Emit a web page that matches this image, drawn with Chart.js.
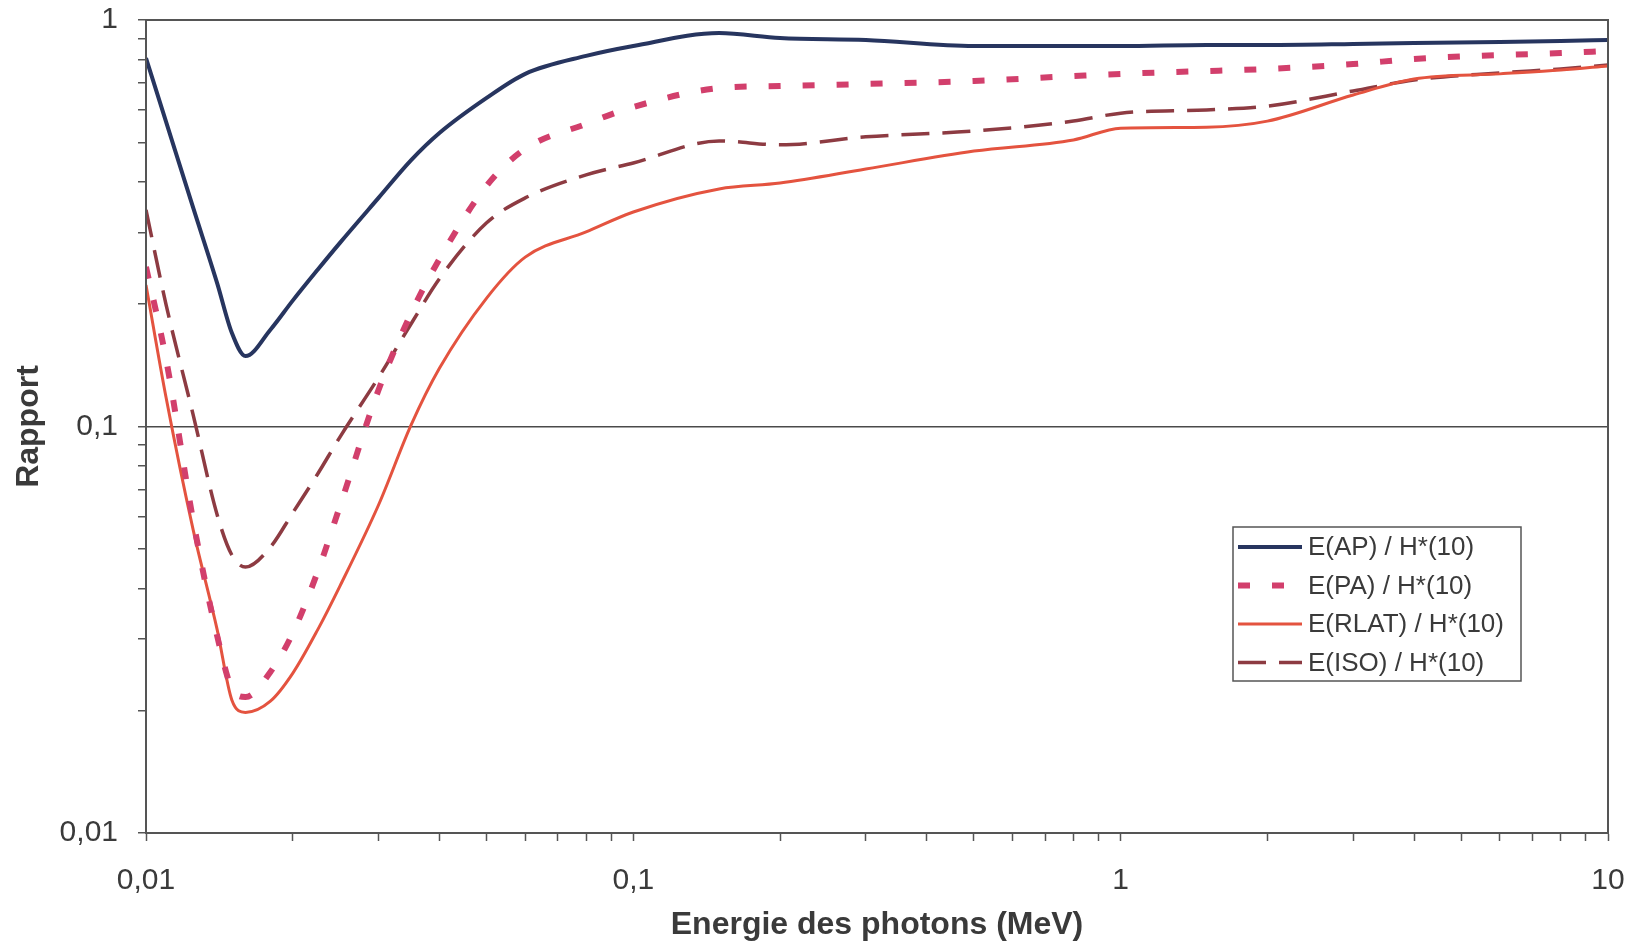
<!DOCTYPE html>
<html>
<head>
<meta charset="utf-8">
<script src="https://cdn.jsdelivr.net/npm/chart.js@4.4.1/dist/chart.umd.min.js"></script>
<style>
  html, body { margin: 0; padding: 0; background: #fff; }
</style>
</head>
<body>
<canvas id="ratio-chart" width="1644" height="944"></canvas>
<script>
// photon energies (MeV)
const energies = [0.01, 0.011, 0.0125, 0.014, 0.015, 0.016, 0.018, 0.02, 0.0225, 0.025, 0.03, 0.035, 0.04, 0.05, 0.06, 0.08,
    0.1, 0.15, 0.2, 0.3, 0.5, 0.8, 1, 1.5, 2, 3, 4, 6, 8, 10];

// E / H*(10) ratios
const apValues = [0.806, 0.561, 0.345, 0.225, 0.170, 0.149, 0.173, 0.204, 0.243, 0.283, 0.365, 0.452, 0.527, 0.643, 0.737, 0.816,
    0.863, 0.929, 0.903, 0.893, 0.863, 0.863, 0.863, 0.868, 0.868, 0.873, 0.878, 0.883, 0.888, 0.893];
const paValues = [0.247, 0.146, 0.0586, 0.0305, 0.0227, 0.0216, 0.0249, 0.031, 0.0439, 0.0637, 0.123, 0.190, 0.258, 0.391, 0.482, 0.555,
    0.611, 0.680, 0.688, 0.696, 0.708, 0.728, 0.737, 0.749, 0.758, 0.779, 0.802, 0.820, 0.829, 0.839];
const rlatValues = [0.223, 0.1175, 0.0556, 0.0316, 0.02125, 0.0198, 0.0211, 0.0247, 0.0316, 0.0405, 0.0641, 0.1009, 0.139, 0.207, 0.261, 0.301,
    0.337, 0.384, 0.397, 0.430, 0.476, 0.507, 0.542, 0.545, 0.564, 0.654, 0.716, 0.737, 0.753, 0.771];
const isoValues = [0.341, 0.199, 0.1067, 0.0606, 0.0483, 0.0451, 0.0505, 0.0613, 0.0764, 0.0942, 0.132, 0.179, 0.231, 0.317, 0.365, 0.416,
    0.445, 0.504, 0.493, 0.516, 0.533, 0.564, 0.590, 0.601, 0.614, 0.669, 0.712, 0.741, 0.758, 0.775];

const seriesLabels = ['E(AP) / H*(10)', 'E(PA) / H*(10)', 'E(RLAT) / H*(10)', 'E(ISO) / H*(10)'];

// axis ticks
const xMajorTicks = [0.01, 0.1, 1, 10];
const xTickLabels = ['0,01', '0,1', '1', '10'];
const yMajorTicks = [0.01, 0.1, 1];
const yTickLabels = ['0,01', '0,1', '1'];

const fontFamily = "'Liberation Sans', Arial, sans-serif";
const textColor = '#3a3a3a';
const axisColor = '#555';

function toPoints(values) {
    return energies.map((e, i) => ({ x: e, y: values[i] }));
}

function majorIndex(majors, v) {
    return majors.findIndex(m => Math.abs(m - v) < m * 1e-6);
}

// 1..9 x 10^n ticks between the decades
function logTicks(majors) {
    const list = [];
    majors.forEach((m, i) => {
        list.push({ value: m, major: true });
        if (i < majors.length - 1) {
            for (let k = 2; k <= 9; k++) list.push({ value: +(m * k).toPrecision(6), major: false });
        }
    });
    return list;
}

// frame round the plot area
const framePlugin = {
    id: 'frame',
    afterDatasetsDraw(chart) {
        const { ctx, chartArea: a } = chart;
        ctx.save();
        ctx.strokeStyle = axisColor;
        ctx.lineWidth = 2;
        ctx.strokeRect(a.left, a.top, a.right - a.left, a.bottom - a.top);
        ctx.restore();
    }
};

// boxed legend inside the plot
const boxLegend = {
    id: 'boxLegend',
    afterDraw(chart) {
        const { ctx, chartArea: a } = chart;
        const x0 = a.right - 375, y0 = a.top + 507, w = 288, h = 154;
        ctx.save();
        ctx.fillStyle = '#fff';
        ctx.fillRect(x0, y0, w, h);
        ctx.strokeStyle = axisColor;
        ctx.lineWidth = 1.5;
        ctx.strokeRect(x0, y0, w, h);
        ctx.font = '26px ' + fontFamily;
        ctx.textBaseline = 'middle';
        chart.data.datasets.forEach((ds, i) => {
            const y = y0 + 20 + i * 38.5;
            ctx.strokeStyle = ds.borderColor;
            ctx.lineWidth = ds.borderWidth;
            ctx.setLineDash(ds.borderDash || []);
            ctx.beginPath();
            ctx.moveTo(x0 + 5, y);
            ctx.lineTo(x0 + 69, y);
            ctx.stroke();
            ctx.setLineDash([]);
            ctx.fillStyle = textColor;
            ctx.fillText(ds.label, x0 + 75, y + 1);
        });
        ctx.restore();
    }
};

const ctx = document.getElementById('ratio-chart');

new Chart(ctx, {
    type: 'line',
    data: {
        datasets: [
            {
                label: seriesLabels[0],
                data: toPoints(apValues),
                borderColor: '#27355f',
                borderWidth: 4
            },
            {
                label: seriesLabels[1],
                data: toPoints(paValues),
                borderColor: '#d23f6c',
                borderWidth: 6,
                borderDash: [12, 22]
            },
            {
                label: seriesLabels[2],
                data: toPoints(rlatValues),
                borderColor: '#e4533f',
                borderWidth: 3
            },
            {
                label: seriesLabels[3],
                data: toPoints(isoValues),
                borderColor: '#8d3b42',
                borderWidth: 3.5,
                borderDash: [28, 13]
            }
        ]
    },
    options: {
        responsive: false,
        animation: false,
        layout: { padding: { left: 0, top: 20, right: 36, bottom: 0 } },
        elements: {
            point: { radius: 0 },
            line: { cubicInterpolationMode: 'monotone', borderCapStyle: 'butt', fill: false }
        },
        plugins: {
            legend: { display: false },
            tooltip: { enabled: false }
        },
        scales: {
            x: {
                type: 'logarithmic',
                min: 0.01,
                max: 10,
                afterBuildTicks: axis => { axis.ticks = logTicks(xMajorTicks); },
                afterFit: axis => {
                    axis.height = 111;
                    axis.paddingLeft = 0;
                    axis.paddingRight = 0;
                },
                border: { display: true, color: axisColor, width: 2 },
                grid: {
                    color: 'rgba(0,0,0,0)',
                    tickColor: axisColor,
                    tickLength: 8,
                    tickWidth: 1.5
                },
                ticks: {
                    autoSkip: false,
                    maxRotation: 0,
                    padding: 22,
                    color: textColor,
                    font: { family: fontFamily, size: 30 },
                    callback: v => {
                        const i = majorIndex(xMajorTicks, v);
                        return i >= 0 ? xTickLabels[i] : '';
                    }
                },
                title: {
                    display: true,
                    text: 'Energie des photons (MeV)',
                    color: textColor,
                    font: { family: fontFamily, size: 32, weight: 'bold' },
                    padding: { top: 0, bottom: 0 }
                }
            },
            y: {
                type: 'logarithmic',
                min: 0.01,
                max: 1,
                afterBuildTicks: axis => { axis.ticks = logTicks(yMajorTicks); },
                afterFit: axis => {
                    axis.width = 146;
                    axis.paddingTop = 0;
                    axis.paddingBottom = 0;
                },
                border: { display: true, color: axisColor, width: 2 },
                grid: {
                    color: c => (c.tick && majorIndex(yMajorTicks, c.tick.value) >= 0) ? '#4a4a4a' : 'rgba(0,0,0,0)',
                    lineWidth: 1.5,
                    tickColor: axisColor,
                    tickLength: 8,
                    tickWidth: 1.5
                },
                ticks: {
                    autoSkip: false,
                    padding: 20,
                    color: textColor,
                    font: { family: fontFamily, size: 30 },
                    callback: v => {
                        const i = majorIndex(yMajorTicks, v);
                        return i >= 0 ? yTickLabels[i] : '';
                    }
                },
                title: {
                    display: true,
                    text: 'Rapport',
                    color: textColor,
                    font: { family: fontFamily, size: 32, weight: 'bold' },
                    padding: { top: 10, bottom: 0 }
                }
            }
        }
    },
    plugins: [framePlugin, boxLegend]
});
</script>
</body>
</html>
